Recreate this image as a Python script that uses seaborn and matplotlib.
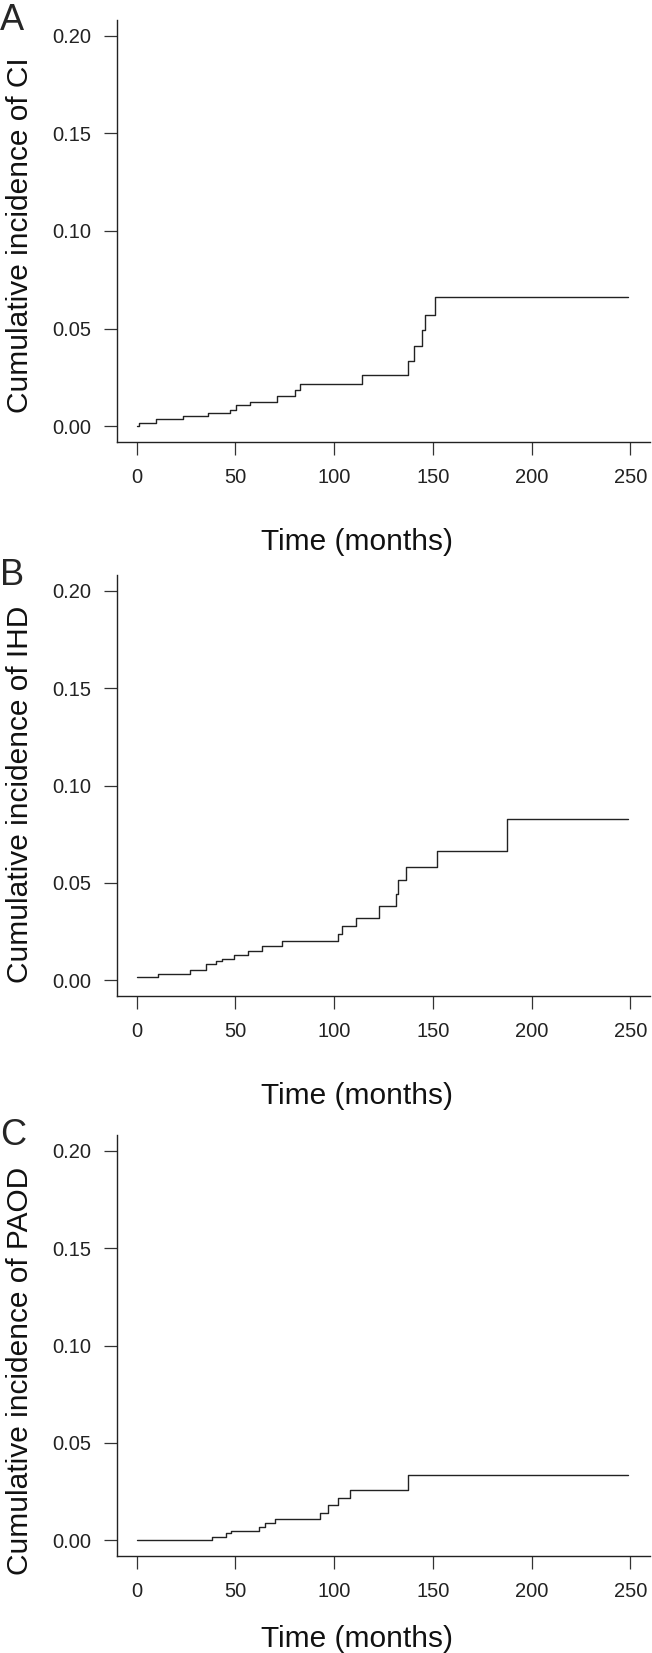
import matplotlib
matplotlib.use("Agg")
import matplotlib.pyplot as plt
import seaborn as sns
import pandas as pd

# step curves: event times (months) and cumulative incidence
ci_time = [0, 1, 10, 23.3, 36.3, 47.2, 50.3, 57.3, 71, 80.4, 82.9, 114.2, 137.3, 140.3, 144.3, 146, 151, 249]
ci_value = [0, 0.0017, 0.0037, 0.0054, 0.0068, 0.0085, 0.0109, 0.0127, 0.0155, 0.0187, 0.0216, 0.0264,
            0.0337, 0.0409, 0.0494, 0.0571, 0.066, 0.066]

ihd_time = [0, 11, 27, 35, 40, 43, 49.4, 56.4, 63.2, 73.5, 102.2, 103.8, 111.2, 122.6, 131.3, 132.3,
            136.3, 152.3, 187.6, 249]
ihd_value = [0.0017, 0.0035, 0.0055, 0.0085, 0.0100, 0.0111, 0.0128, 0.0150, 0.0176, 0.0203, 0.0240,
             0.0281, 0.0320, 0.0380, 0.0445, 0.0513, 0.0582, 0.0665, 0.083, 0.083]

paod_time = [0, 38, 45, 48, 62, 65, 70, 93, 97, 102, 108, 137.2, 249]
paod_value = [0, 0.002, 0.004, 0.005, 0.007, 0.009, 0.011, 0.014, 0.018, 0.022, 0.026, 0.0337, 0.0337]

panel_letters = ["A", "B", "C"]
y_labels = ["Cumulative incidence of CI", "Cumulative incidence of IHD", "Cumulative incidence of PAOD"]
x_ticks = [0, 50, 100, 150, 200, 250]
y_ticks = [0.00, 0.05, 0.10, 0.15, 0.20]

sns.set_style("ticks")
plt.rcParams['font.family'] = ['Liberation Sans', 'DejaVu Sans']

W, H = 652, 1653
fig = plt.figure(figsize=(W / 100, H / 100), dpi=100)

# axes boxes in pixels: (top, bottom), and where the axis labels sit
boxes = [(20, 442), (575, 996), (1135, 1556)]
xlab_y = [-0.204, -0.204, -0.165]
ylab_y = [0.49, 0.48, 0.44]
left_px, right_px = 117, 650

curves = [(ci_time, ci_value), (ihd_time, ihd_value), (paod_time, paod_value)]

for i, ((t, v), (top, bot)) in enumerate(zip(curves, boxes)):
    ax = fig.add_axes([left_px / W, 1 - bot / H, (right_px - left_px) / W, (bot - top) / H])
    df = pd.DataFrame({"time": t, "value": v})
    sns.lineplot(data=df, x="time", y="value", ax=ax, estimator=None, sort=False,
                 drawstyle="steps-post", color="#222222", linewidth=1.0)
    ax.set_xlim(-10, 260)
    ax.set_ylim(-0.008, 0.208)
    ax.set_xticks(x_ticks)
    ax.set_yticks(y_ticks)
    ax.set_yticklabels([f"{y:.2f}" for y in y_ticks])
    sns.despine(ax=ax)
    for s in ["left", "bottom"]:
        ax.spines[s].set_linewidth(1.0)
        ax.spines[s].set_color("#222222")
    ax.tick_params(axis="both", direction="out", length=9.5, width=0.9, color="#333333",
                   labelsize=14.5, labelcolor="#222222")
    ax.tick_params(axis="x", pad=9)
    ax.tick_params(axis="y", pad=9)
    ax.set_xlabel("Time (months)", fontsize=21.5, color="#111111")
    ax.set_ylabel(y_labels[i], fontsize=21.5, color="#111111")
    ax.xaxis.set_label_coords(0.45, xlab_y[i])
    ax.yaxis.set_label_coords(-0.155, ylab_y[i])
    fig.text(0.0, 1 - (top - 17) / H, panel_letters[i], fontsize=26, va="top", ha="left")

fig.savefig("out.png", dpi=100)
